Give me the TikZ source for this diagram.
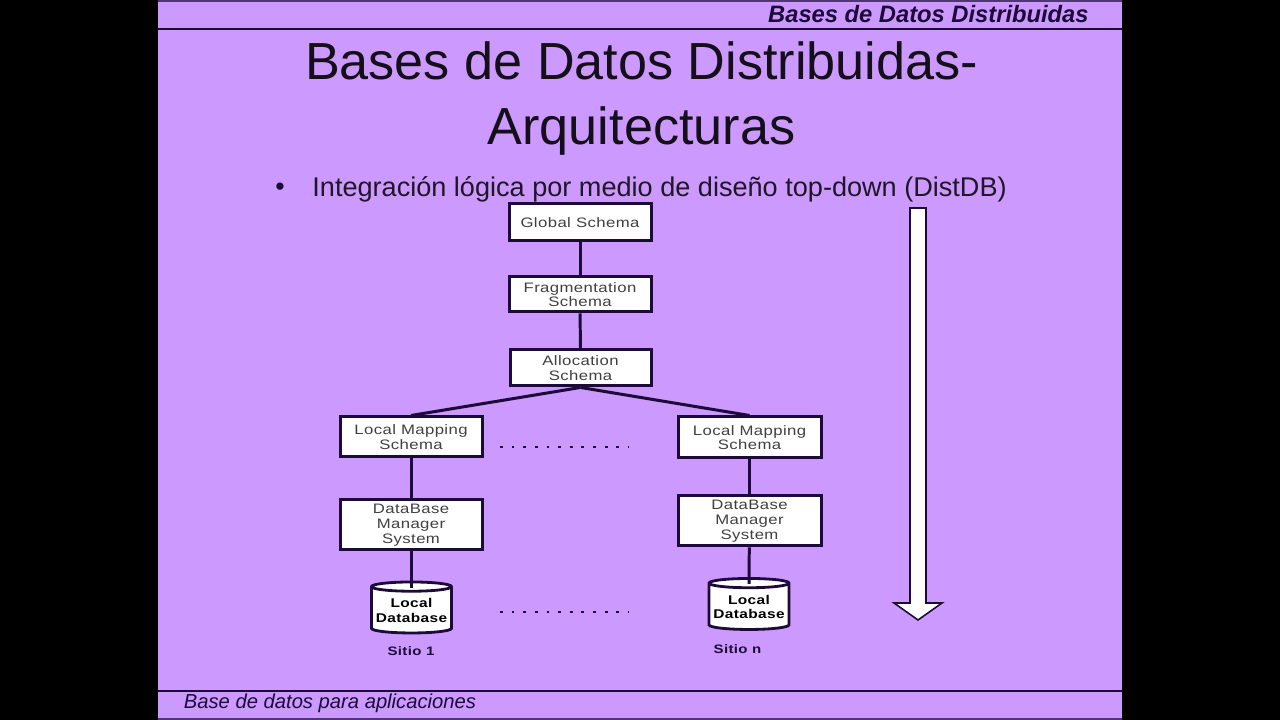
\documentclass[tikz,border=0pt]{standalone}
\usepackage{fontspec}
\setmainfont{Liberation Sans}
\newfontfamily\boxfont[FakeStretch=1.22,LetterSpace=3]{Liberation Sans}
\usetikzlibrary{arrows,shapes.geometric,shapes.arrows}
\definecolor{slidebg}{HTML}{CC99FF}
\definecolor{inkdark}{HTML}{1C0A38}
\tikzset{
	schemabox/.style={draw=inkdark, line width=0.85pt, fill=white, inner sep=0pt, align=center, text=black!75, font=\boxfont\fontsize{3.9}{4.2}\selectfont, anchor=center},
	dbshape/.style={cylinder, shape border rotate=90, aspect=0.13, draw=inkdark, line width=0.8pt, fill=white, inner sep=0pt, minimum width=0.8cm, minimum height=0.51cm, align=center, font=\boxfont\bfseries\fontsize{3.6}{4}\selectfont},
	link/.style={draw=inkdark, line width=0.85pt},
	dotrow/.style={draw=inkdark, line width=0.8pt, dash pattern=on 0.8pt off 2.51pt},
	sitelabel/.style={text=inkdark, font=\boxfont\bfseries\fontsize{3.5}{4}\selectfont},
	bandtext/.style={text=inkdark, font=\bfseries\itshape\fontsize{6.75}{8}\selectfont}
}
\begin{document}
\begin{tikzpicture}
	% Background
	\useasboundingbox (0,0) rectangle (12.8,7.2);
	\fill[black] (0,0) rectangle (12.8,7.2);
	\fill[slidebg] (1.58,0) rectangle (11.22,7.2);
	
	% Bands
	\coordinate (tl) at (1.58,6.91);
	\coordinate (tr) at (11.22,6.91);
	\coordinate (bl) at (1.58,0.29);
	\coordinate (br) at (11.22,0.29);
	\draw[inkdark, line width=0.6pt] (tl) -- (tr);
	\draw[inkdark, line width=0.35pt] (bl) -- (br);
	\draw[inkdark!70!slidebg, line width=0.35pt] (1.58,7.19) -- (11.22,7.19);
	\draw[inkdark!70!slidebg, line width=0.35pt] (1.58,0.01) -- (11.22,0.01);
	\node[bandtext, anchor=east] (header) at (11.01,7.06) {Bases de Datos  Distribuidas};
	\node[bandtext, anchor=west, font=\itshape\fontsize{5.75}{7}\selectfont] (footer) at (1.715,0.17) {Base de datos para aplicaciones};
	
	% Title
	\node[align=center, text=black!90!slidebg, font=\fontsize{14.85}{18.5}\selectfont] (title) at (6.415,6.21) {Bases de Datos Distribuidas-\\Arquitecturas};
	\node[text=inkdark, font=\fontsize{7.6}{9}\selectfont] (bullet) at (2.8,5.31) {•};
	\node[text=black!85!slidebg, anchor=west, font=\fontsize{7.71}{9}\selectfont] (subtitle) at (3.0,5.31) {Integración lógica por medio de diseño top-down (DistDB)};
	
	% Central boxes
	\node[schemabox, minimum width=1.42cm, minimum height=0.37cm] (global) at (5.8,4.975) {Global Schema};
	\node[schemabox, minimum width=1.42cm, minimum height=0.35cm] (frag) at (5.8,4.255) {Fragmentation\\Schema};
	\node[schemabox, minimum width=1.41cm, minimum height=0.36cm] (alloc) at (5.805,3.52) {Allocation\\Schema};
	
	% Left site
	\node[schemabox, minimum width=1.42cm, minimum height=0.4cm] (lmsa) at (4.11,2.83) {Local Mapping\\Schema};
	\node[schemabox, minimum width=1.42cm, minimum height=0.5cm] (dbmsa) at (4.11,1.95) {DataBase\\Manager\\System};
	\node[dbshape] (cyla) at (4.115,1.095) {Local\\Database};
	\node[sitelabel] (sitea) at (4.11,0.69) {Sitio 1};
	
	% Right site
	\node[schemabox, minimum width=1.43cm, minimum height=0.41cm] (lmsb) at (7.495,2.825) {Local Mapping\\Schema};
	\node[schemabox, minimum width=1.43cm, minimum height=0.5cm] (dbmsb) at (7.495,1.99) {DataBase\\Manager\\System};
	\node[dbshape] (cylb) at (7.49,1.13) {Local\\Database};
	\node[sitelabel] (siteb) at (7.375,0.705) {Sitio n};
	
	% Connectors
	\draw[link] (global) -- (frag);
	\draw[link] (frag) -- (alloc);
	\draw[link] (alloc.south) -- (lmsa.north);
	\draw[link] (alloc.south) -- (lmsb.north);
	\draw[link] (lmsa) -- (dbmsa);
	\draw[link] (lmsb) -- (dbmsb);
	\coordinate (enda) at (4.11,1.32);
	\coordinate (endb) at (7.49,1.36);
	\draw[link] (dbmsa) -- (enda);
	\draw[link] (dbmsb) -- (endb);
	
	% Dots between the sites
	\coordinate (dotsa) at (5.0,2.73);
	\coordinate (dotsb) at (6.29,2.73);
	\coordinate (dotsc) at (5.0,1.08);
	\coordinate (dotsd) at (6.29,1.08);
	\draw[dotrow] (dotsa) -- (dotsb);
	\draw[dotrow] (dotsc) -- (dotsd);
	
	% Top-down arrow
	\draw[inkdark, line width=0.45pt, fill=white] (9.1,5.12) -- (9.26,5.12) -- (9.26,1.17) -- (9.42,1.17) -- (9.18,1) -- (8.94,1.17) -- (9.1,1.17) -- cycle;
\end{tikzpicture}
\end{document}
